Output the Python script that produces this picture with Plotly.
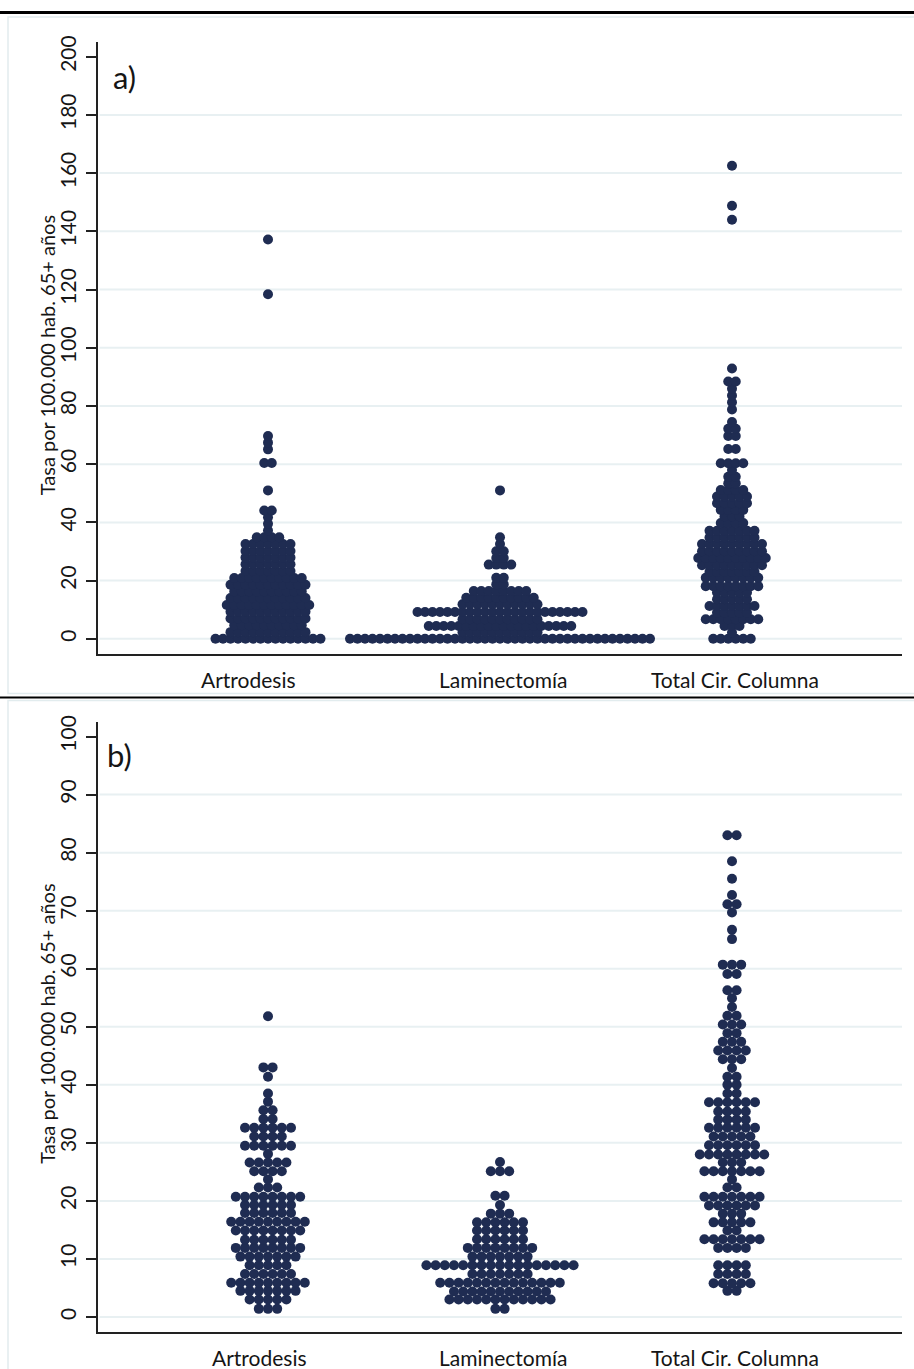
import plotly.graph_objects as go

# ---------------------------------------------------------------------------
# Data: binned rates (per 100,000 inhabitants aged 65+) and number of areas
# falling in each bin, per procedure, for panels a) and b).
# ---------------------------------------------------------------------------
categorias = ["Artrodesis", "Laminectomía", "Total Cir. Columna"]

# Panel a)
a_artrodesis_tasa = [0, 2.3, 4.7, 7.0, 9.3, 11.6, 14.0, 16.3, 18.6, 20.9, 23.3, 25.6,
                     27.9, 30.2, 32.6, 34.9, 37.2, 39.5, 41.8, 44.1, 51.0, 60.4, 65.1,
                     67.4, 69.7, 118.4, 137.2]
a_artrodesis_n = [15, 11, 10, 11, 11, 12, 11, 10, 11, 10, 7, 7,
                  7, 7, 7, 4, 1, 1, 1, 2, 1, 2, 1,
                  1, 1, 1, 1]

a_laminectomia_tasa = [0, 2.3, 4.4, 6.7, 9.2, 11.9, 14.1, 16.4, 18.7, 21.0, 25.5,
                       27.8, 30.1, 32.6, 34.9, 51.0]
a_laminectomia_n = [41, 11, 20, 11, 23, 11, 10, 8, 2, 2, 4,
                    2, 2, 1, 1, 1]

a_total_tasa = [0, 2.2, 4.4, 6.7, 9.0, 11.3, 13.6, 15.9, 18.1, 21.0, 23.0, 25.3,
                27.8, 30.1, 32.6, 34.8, 37.1, 39.8, 42.0, 44.3, 46.6, 48.9, 51.1,
                53.4, 55.7, 58.0, 60.3, 65.2, 69.7, 72.2, 74.5, 78.8, 81.3, 83.6,
                85.9, 88.4, 92.9, 144.0, 148.8, 162.5]
a_total_n = [6, 1, 3, 8, 5, 7, 5, 5, 8, 8, 7, 9,
             10, 9, 9, 7, 7, 4, 3, 4, 5, 5, 4,
             2, 2, 1, 4, 2, 2, 2, 1, 1, 1, 1,
             1, 2, 1, 1, 1, 1]

# Panel b)
b_artrodesis_tasa = [1.4, 3.0, 4.5, 5.9, 7.4, 8.9, 10.4, 11.9, 13.3, 14.9, 16.4, 17.9,
                     19.3, 20.7, 22.3, 23.7, 25.1, 26.6, 28.1, 29.5, 31.1, 32.6, 34.1,
                     35.6, 37.1, 38.5, 41.4, 43.0, 51.8]
b_artrodesis_n = [3, 5, 7, 9, 6, 5, 7, 8, 6, 8, 9, 6,
                  6, 8, 3, 1, 4, 5, 1, 6, 4, 6, 2,
                  2, 1, 1, 1, 2, 1]

b_laminectomia_tasa = [1.4, 3.0, 4.4, 5.9, 7.4, 8.9, 10.4, 11.9, 13.4, 14.9, 16.3,
                       17.8, 19.3, 20.9, 25.1, 26.7]
b_laminectomia_n = [2, 12, 11, 14, 7, 17, 7, 8, 6, 6, 6,
                    3, 1, 2, 3, 1]

b_total_tasa = [4.5, 5.8, 7.4, 8.9, 11.9, 13.4, 14.9, 16.3, 17.8, 19.2, 20.7, 22.3,
                23.7, 25.1, 26.6, 28.0, 29.6, 31.1, 32.6, 34.0, 35.4, 37.0, 38.5,
                40.0, 41.4, 42.9, 44.4, 45.9, 47.4, 48.9, 50.4, 51.9, 53.4, 54.9,
                56.3, 59.1, 60.7, 65.1, 66.7, 69.7, 71.1, 72.7, 75.5, 78.5, 83.0]
b_total_n = [2, 5, 4, 4, 4, 7, 2, 5, 3, 6, 7, 2,
             1, 7, 3, 8, 6, 5, 6, 4, 4, 6, 2,
             2, 2, 1, 3, 4, 3, 2, 3, 2, 1, 1,
             2, 2, 3, 1, 1, 1, 2, 1, 1, 1, 2]

a_ticks = list(range(0, 201, 20))
b_ticks = list(range(0, 101, 10))

# ---------------------------------------------------------------------------
# Layout helpers (page is 914 x 1369 px)
# ---------------------------------------------------------------------------
W, H = 914, 1369
NAVY = "#1f2c52"
GRID = "#e8f0f2"
FRAME = "#e2ecee"
FONT = "Lato"
TEXT = "#151515"


def px(x):
    return x / W


def py(y):
    return 1 - y / H


def dot_rows(center, tasa, counts, step):
    """Spread the dots of each bin symmetrically around the group centre."""
    xs, ys = [], []
    for v, n in zip(tasa, counts):
        for i in range(n):
            xs.append(center + (i - (n - 1) / 2) * step)
            ys.append(v)
    return xs, ys


UNIT_PX = 232.0            # pixels between group centres
STEP_A = 7.5 / UNIT_PX      # horizontal dot spacing, panel a)
STEP_B = 9.2 / UNIT_PX      # horizontal dot spacing, panel b)

fig = go.Figure()

panels = [
    ("x", "y", STEP_A, [(a_artrodesis_tasa, a_artrodesis_n),
                        (a_laminectomia_tasa, a_laminectomia_n),
                        (a_total_tasa, a_total_n)]),
    ("x2", "y2", STEP_B, [(b_artrodesis_tasa, b_artrodesis_n),
                          (b_laminectomia_tasa, b_laminectomia_n),
                          (b_total_tasa, b_total_n)]),
]

for xa, ya, step, groups in panels:
    for k, (tasa, counts) in enumerate(groups):
        xs, ys = dot_rows(k + 1, tasa, counts, step)
        fig.add_trace(go.Scatter(
            x=xs, y=ys, mode="markers", xaxis=xa, yaxis=ya,
            name=categorias[k], showlegend=False, hoverinfo="skip",
            marker=dict(size=10, color=NAVY, line=dict(width=0)),
        ))

xdom = [px(98), px(902)]
xrange = [1 - 170 / UNIT_PX, 3 + 170 / UNIT_PX]

common_y = dict(
    showgrid=False, zeroline=False, showline=True, linecolor="#222",
    linewidth=1.5, ticks="outside", ticklen=10, tickwidth=1.5,
    tickcolor="#222", tickangle=-90, ticklabelstandoff=2,
    tickfont=dict(family=FONT, size=21, color=TEXT),
)
common_x = dict(
    showgrid=False, zeroline=False, showline=True, linecolor="#222",
    linewidth=1.5, ticks="", showticklabels=False, range=xrange, domain=xdom,
)

fig.update_layout(
    width=W, height=H,
    margin=dict(l=0, r=0, t=0, b=0),
    paper_bgcolor="white", plot_bgcolor="white",
    xaxis=dict(**common_x, anchor="y"),
    yaxis=dict(**common_y, anchor="x", range=[-5.1, 205.1],
               domain=[py(650), py(35)], tickvals=a_ticks),
    xaxis2=dict(**common_x, anchor="y2"),
    yaxis2=dict(**common_y, anchor="x2", range=[-2.57, 102.57],
                domain=[py(1331.7), py(718.3)], tickvals=b_ticks),
)

shapes = []
# Light horizontal grid (not at the top tick)
for yref, ticks in (("y", a_ticks[:-1]), ("y2", b_ticks[:-1])):
    for t in ticks:
        shapes.append(dict(type="line", xref="x domain" if yref == "y" else "x2 domain",
                           yref=yref, x0=0.002, x1=1, y0=t, y1=t,
                           line=dict(color=GRID, width=2), layer="below"))

# Graph-region frames
shapes.append(dict(type="rect", xref="paper", yref="paper",
                   x0=px(8), x1=px(925), y0=py(690), y1=py(10),
                   line=dict(color=FRAME, width=1.5), layer="below"))
shapes.append(dict(type="rect", xref="paper", yref="paper",
                   x0=px(8), x1=px(925), y0=py(1380), y1=py(697),
                   line=dict(color=FRAME, width=1.5), layer="below"))
# Black rules separating the panels
shapes.append(dict(type="line", xref="paper", yref="paper",
                   x0=0, x1=1, y0=py(5.5), y1=py(5.5),
                   line=dict(color="black", width=3)))
shapes.append(dict(type="line", xref="paper", yref="paper",
                   x0=0, x1=1, y0=py(694), y1=py(694),
                   line=dict(color="black", width=2)))

annotations = []
ytitle = "Tasa por 100.000 hab. 65+ años"
for yc in (350, 1022):
    annotations.append(dict(text=ytitle, xref="paper", yref="paper",
                            x=px(47), y=py(yc), textangle=-90, showarrow=False,
                            xanchor="center", yanchor="middle",
                            font=dict(family=FONT, size=20, color=TEXT)))

annotations.append(dict(text="a)", xref="paper", yref="paper", x=px(125), y=py(70),
                        showarrow=False, xanchor="center", yanchor="middle",
                        font=dict(family=FONT, size=31, color=TEXT)))
annotations.append(dict(text="b)", xref="paper", yref="paper", x=px(120), y=py(752),
                        showarrow=False, xanchor="center", yanchor="middle",
                        font=dict(family=FONT, size=31, color=TEXT)))

# Category labels under each panel
label_pos_a = [248, 503, 735]
label_pos_b = [259, 503, 735]
for ylab, pos in ((676, label_pos_a), (1357, label_pos_b)):
    for name, xp in zip(categorias, pos):
        annotations.append(dict(text=name, xref="paper", yref="paper",
                                x=px(xp), y=py(ylab), showarrow=False,
                                xanchor="center", yanchor="middle",
                                font=dict(family=FONT, size=21, color=TEXT)))

fig.update_layout(shapes=shapes, annotations=annotations)

fig.write_html("out.html")
